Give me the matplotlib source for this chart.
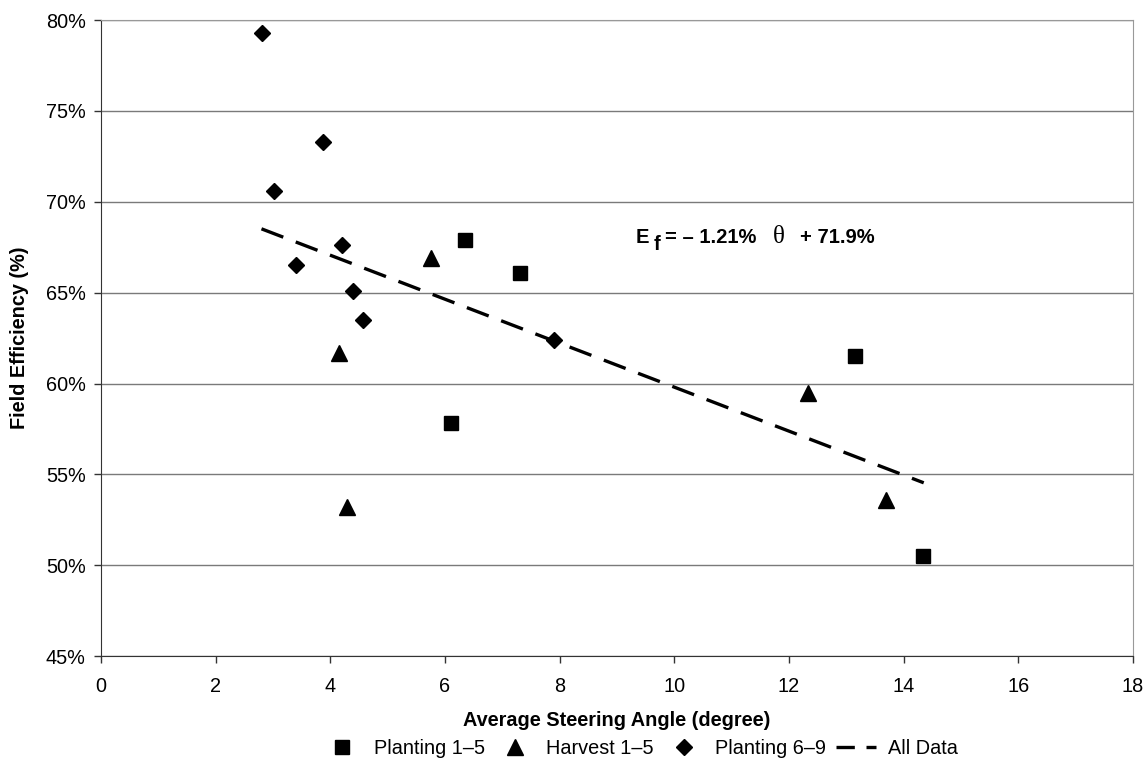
import numpy as np
import matplotlib.pyplot as plt
from matplotlib.ticker import FuncFormatter
from matplotlib.lines import Line2D

plt.rcParams['font.family'] = ['Liberation Sans', 'DejaVu Sans']

# data
plant15_x = [6.35, 7.31, 6.11, 13.15, 14.34]
plant15_y = [67.9, 66.1, 57.8, 61.5, 50.5]
harv15_x = [5.76, 4.16, 4.29, 12.34, 13.70]
harv15_y = [66.9, 61.7, 53.2, 59.5, 53.6]
plant69_x = [2.81, 3.88, 3.01, 3.40, 4.20, 4.40, 4.57, 7.91]
plant69_y = [79.3, 73.3, 70.6, 66.5, 67.6, 65.1, 63.5, 62.4]
slope, intercept = -1.21, 71.9
fit_x = [2.8, 14.35]
x_ticks = [0, 2, 4, 6, 8, 10, 12, 14, 16, 18]
y_ticks = [45, 50, 55, 60, 65, 70, 75, 80]

fig = plt.figure(figsize=(11.47, 7.71), dpi=100)
ax = fig.add_axes([0.088, 0.149, 0.8998, 0.825])

ax.set_xlim(0, 18)
ax.set_ylim(45, 80)
ax.set_xticks(x_ticks)
ax.set_yticks(y_ticks)
ax.yaxis.set_major_formatter(FuncFormatter(lambda v, p: '%d%%' % v))
ax.grid(axis='y', color='#7a7a7a', lw=1.0)
ax.set_axisbelow(True)
for s in ['top', 'right']:
    ax.spines[s].set_color('#999999')
for s in ['left', 'bottom']:
    ax.spines[s].set_color('#333333')
ax.tick_params(direction='out', length=5, width=1, color='#333333', labelsize=14.3)
ax.tick_params(axis='x', pad=10)
ax.tick_params(axis='y', pad=6)

h1, = ax.plot(plant15_x, plant15_y, 's', color='black', ms=10.5, ls='none', label='Planting 1\u20135')
h2, = ax.plot(harv15_x, harv15_y, '^', color='black', ms=11, ls='none', label='Harvest 1\u20135')
h3, = ax.plot(plant69_x, plant69_y, 'D', color='black', ms=8, ls='none', label='Planting 6\u20139')
fy = [slope * v + intercept for v in fit_x]
ax.plot(fit_x, fy, color='black', lw=2.4, dashes=(7, 4))
# legend handle with shorter dashes so it shows "— -"
h4 = Line2D([], [], color='black', lw=2.4, dashes=(5.5, 3.5), label='All Data')

ax.set_xlabel('Average Steering Angle (degree)', fontsize=14.3, fontweight='bold', labelpad=11)
ax.set_ylabel('Field Efficiency (%)', fontsize=14.3, fontweight='bold', labelpad=12)

# equation, pieced together
eq = dict(fontsize=14.5, fontweight='bold', va='baseline', ha='left')
ax.text(9.33, 67.71, 'E', **eq)
ax.text(9.64, 67.32, 'f', **eq)
ax.text(9.84, 67.71, '= \u2013 1.21%', **eq)
ax.text(11.72, 67.71, '\u03b8', fontsize=18, family='Liberation Serif', va='baseline', ha='left')
ax.text(12.19, 67.71, '+ 71.9%', **eq)

fig.legend(handles=[h1, h2, h3, h4], loc='center', bbox_to_anchor=(0.558, 0.029), ncol=4,
           frameon=False, fontsize=14.3, handlelength=2.0, columnspacing=0.5, handletextpad=0.6)

fig.savefig('out.png', dpi=100)
